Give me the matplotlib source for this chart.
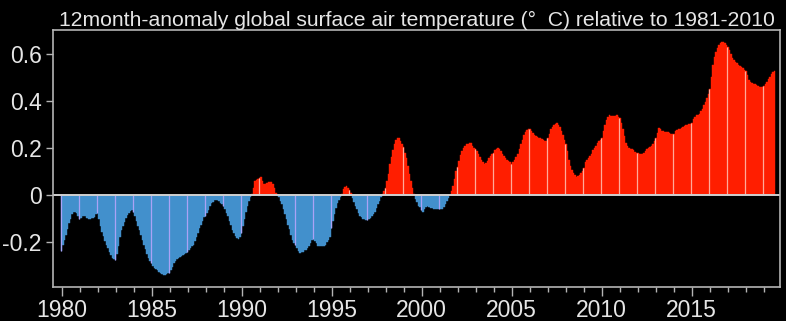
import numpy as np
import matplotlib
matplotlib.use("Agg")
import matplotlib.pyplot as plt
from matplotlib.ticker import MultipleLocator

# 12-month running anomaly, one row per year (Jan..Dec), deg C vs 1981-2010
start_year = 1980
anomaly = [
    -0.236, -0.21, -0.19, -0.17, -0.145, -0.12, -0.10, -0.08, -0.07, -0.07, -0.075, -0.09,          # 1980
    -0.10, -0.097, -0.09, -0.087, -0.09, -0.097, -0.10, -0.10, -0.098, -0.097, -0.094, -0.08,      # 1981
    -0.076, -0.10, -0.13, -0.155, -0.175, -0.195, -0.21, -0.225, -0.24, -0.255, -0.265, -0.272,    # 1982
    -0.274, -0.25, -0.215, -0.18, -0.15, -0.13, -0.115, -0.098, -0.086, -0.075, -0.066, -0.062,    # 1983
    -0.07, -0.09, -0.11, -0.13, -0.15, -0.17, -0.19, -0.21, -0.23, -0.25, -0.265, -0.28,           # 1984
    -0.29, -0.30, -0.31, -0.315, -0.32, -0.325, -0.33, -0.334, -0.338, -0.338, -0.335, -0.332,     # 1985
    -0.33, -0.32, -0.305, -0.29, -0.28, -0.272, -0.267, -0.262, -0.257, -0.254, -0.25, -0.246,     # 1986
    -0.24, -0.232, -0.225, -0.218, -0.21, -0.197, -0.18, -0.16, -0.14, -0.125, -0.11, -0.095,      # 1987
    -0.09, -0.075, -0.062, -0.048, -0.035, -0.028, -0.022, -0.02, -0.022, -0.025, -0.032, -0.04,   # 1988
    -0.048, -0.06, -0.076, -0.09, -0.11, -0.125, -0.147, -0.16, -0.175, -0.182, -0.186, -0.18,     # 1989
    -0.16, -0.13, -0.10, -0.07, -0.045, -0.025, -0.01, 0.005, 0.03, 0.058, 0.064, 0.068,           # 1990
    0.072, 0.077, 0.06, 0.048, 0.047, 0.053, 0.055, 0.056, 0.055, 0.046, 0.03, 0.01,               # 1991
    0.002, -0.01, -0.025, -0.04, -0.06, -0.08, -0.10, -0.125, -0.145, -0.168, -0.19, -0.205,       # 1992
    -0.21, -0.225, -0.238, -0.246, -0.243, -0.24, -0.235, -0.232, -0.226, -0.218, -0.205, -0.192,  # 1993
    -0.185, -0.195, -0.205, -0.215, -0.218, -0.218, -0.218, -0.215, -0.21, -0.20, -0.19, -0.178,   # 1994
    -0.14, -0.11, -0.08, -0.055, -0.035, -0.02, -0.008, 0.005, 0.025, 0.035, 0.037, 0.03,          # 1995
    0.02, 0.008, -0.012, -0.03, -0.045, -0.06, -0.075, -0.088, -0.095, -0.10, -0.103, -0.104,      # 1996
    -0.104, -0.10, -0.097, -0.09, -0.08, -0.07, -0.055, -0.04, -0.026, -0.01, 0.005, 0.018,        # 1997
    0.03, 0.06, 0.09, 0.13, 0.16, 0.19, 0.215, 0.235, 0.243, 0.24, 0.23, 0.215,                    # 1998
    0.205, 0.18, 0.155, 0.125, 0.09, 0.06, 0.03, 0.005, -0.015, -0.03, -0.045, -0.052,             # 1999
    -0.065, -0.072, -0.06, -0.05, -0.048, -0.05, -0.055, -0.057, -0.058, -0.06, -0.06, -0.06,      # 2000
    -0.06, -0.06, -0.058, -0.05, -0.04, -0.025, -0.012, 0.0, 0.015, 0.04, 0.07, 0.10,              # 2001
    0.12, 0.145, 0.168, 0.185, 0.20, 0.21, 0.215, 0.218, 0.22, 0.222, 0.21, 0.20,                  # 2002
    0.194, 0.185, 0.172, 0.16, 0.15, 0.14, 0.13, 0.135, 0.145, 0.155, 0.165, 0.175,               # 2003
    0.18, 0.19, 0.196, 0.20, 0.195, 0.185, 0.175, 0.165, 0.158, 0.15, 0.144, 0.14,                 # 2004
    0.13, 0.14, 0.15, 0.16, 0.175, 0.195, 0.215, 0.235, 0.255, 0.268, 0.276, 0.28,                 # 2005
    0.28, 0.272, 0.262, 0.255, 0.25, 0.246, 0.243, 0.24, 0.236, 0.232, 0.229, 0.23,                # 2006
    0.24, 0.26, 0.28, 0.29, 0.297, 0.302, 0.304, 0.298, 0.287, 0.272, 0.255, 0.235,                # 2007
    0.215, 0.185, 0.15, 0.125, 0.108, 0.095, 0.085, 0.078, 0.08, 0.086, 0.093, 0.10,               # 2008
    0.115, 0.14, 0.15, 0.158, 0.165, 0.175, 0.19, 0.20, 0.21, 0.22, 0.228, 0.235,                  # 2009
    0.24, 0.27, 0.295, 0.318, 0.333, 0.338, 0.336, 0.335, 0.335, 0.336, 0.338, 0.333,              # 2010
    0.325, 0.305, 0.28, 0.25, 0.222, 0.208, 0.20, 0.197, 0.194, 0.19, 0.182, 0.177,                # 2011
    0.18, 0.175, 0.172, 0.172, 0.178, 0.188, 0.195, 0.20, 0.204, 0.208, 0.215, 0.228,              # 2012
    0.24, 0.265, 0.285, 0.28, 0.273, 0.27, 0.268, 0.267, 0.266, 0.263, 0.26, 0.257,                # 2013
    0.26, 0.27, 0.277, 0.28, 0.281, 0.283, 0.288, 0.292, 0.296, 0.299, 0.30, 0.302,                # 2014
    0.307, 0.322, 0.333, 0.338, 0.34, 0.345, 0.357, 0.367, 0.38, 0.395, 0.412, 0.43,               # 2015
    0.45, 0.50, 0.55, 0.585, 0.605, 0.622, 0.635, 0.645, 0.65, 0.65, 0.645, 0.638,                 # 2016
    0.63, 0.615, 0.598, 0.582, 0.572, 0.564, 0.558, 0.553, 0.548, 0.543, 0.537, 0.532,             # 2017
    0.528, 0.51, 0.49, 0.48, 0.476, 0.473, 0.47, 0.466, 0.462, 0.46, 0.46, 0.46,                   # 2018
    0.462, 0.472, 0.48, 0.493, 0.502, 0.512, 0.52, 0.525,                                          # 2019
]
year_ticks = [1980, 1985, 1990, 1995, 2000, 2005, 2010, 2015]
y_ticks = [-0.2, 0, 0.2, 0.4, 0.6]
y_labels = ["-0.2", "0", "0.2", "0.4", "0.6"]

RED = "#ff1e00"
BLUE = "#4290cc"
FG = "#e6e6e6"
SPINE = "#b4b4b4"

plt.rcParams['font.family'] = ['Liberation Sans', 'DejaVu Sans']

vals = np.array(anomaly)
t = start_year + np.arange(len(vals)) / 12.0
cols = np.where(vals >= 0, RED, BLUE)

fig = plt.figure(figsize=(7.86, 3.21), dpi=100, facecolor="black")
ax = fig.add_axes([0.0674, 0.106, 0.925, 0.8005], facecolor="black")

ax.bar(t, vals, width=1 / 12.0, color=cols, edgecolor=cols, linewidth=0.3)

# thin light lines at each year boundary inside the bars
jan = vals[::12]
yrs = start_year + np.arange(len(jan)) - 1 / 24.0
line_cols = np.where(jan >= 0, "#ffaa9a", "#aaa2f5")
ax.vlines(yrs, 0, jan, colors=line_cols, linewidth=0.9)

ax.axhline(0, color="#d0d0d0", lw=1.4)

ax.set_xlim(1979.52, 2019.9)
ax.set_ylim(-0.39, 0.70)

ax.set_xticks(year_ticks)
ax.set_xticklabels([str(y) for y in year_ticks])
ax.xaxis.set_minor_locator(MultipleLocator(1))
ax.set_yticks(y_ticks)
ax.set_yticklabels(y_labels)

ax.tick_params(axis="both", which="major", colors=SPINE, labelcolor=FG,
               labelsize=16.5, direction="out", width=1.0)
ax.tick_params(axis="x", which="major", length=6.5, pad=2)
ax.tick_params(axis="x", which="minor", length=3.5, width=1.0, colors=SPINE)
ax.tick_params(axis="y", which="major", length=5, pad=3)

for s in ax.spines.values():
    s.set_color(SPINE)
    s.set_linewidth(1.2)

ax.set_title("12month-anomaly global surface air temperature (°  C) relative to 1981-2010",
             color=FG, fontsize=15.2, pad=3)

fig.savefig("out.png", dpi=100, facecolor="black")
